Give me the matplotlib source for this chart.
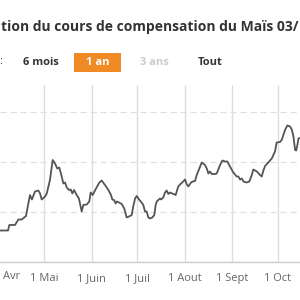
import matplotlib
matplotlib.use("Agg")
import matplotlib.pyplot as plt
from matplotlib.patches import FancyBboxPatch

# ---- data (days since 1 May, price) ----
days = [-29.0, -23.8, -22.9, -19.2, -17.0, -14.8, -12.0, -9.4, -8.1, -6.1,
        -3.9, -2.8, -1.7, 0.5, 1.6, 3.7, 5.5, 7.0, 8.5, 9.8,
        10.9, 12.5, 13.6, 14.7, 16.2, 17.3, 18.4, 19.5, 21.2, 22.7,
        24.5, 25.6, 27.8, 29.5, 30.4, 31.7, 33.9, 36.1, 37.6, 39.8,
        42.0, 43.7, 44.6, 45.7, 46.8, 47.5, 49.0, 50.7, 52.4, 54.0,
        56.2, 57.3, 58.3, 59.5, 60.6, 62.1, 63.8, 64.9, 66.0, 67.1,
        68.2, 69.3, 70.8, 72.1, 73.0, 73.7, 74.7, 75.8, 76.5, 78.0,
        79.1, 80.2, 81.3, 82.4, 84.6, 86.1, 87.8, 89.6, 91.1, 92.2,
        93.3, 94.4, 96.2, 97.3, 98.8, 99.9, 102.1, 103.2, 105.3, 106.5,
        107.5, 108.6, 109.7, 111.9, 113.0, 115.2, 116.7, 118.5, 120.0, 121.7,
        123.9, 126.1, 127.2, 128.3, 129.4, 130.5, 132.7, 134.4, 136.0, 137.0,
        139.3, 141.4, 142.5, 143.6, 144.7, 146.8, 149.1, 151.2, 152.3, 154.5,
        155.6, 157.8, 159.3, 161.1, 162.2, 163.3, 164.4, 165.1, 165.9, 166.6,
        168.5]
prices = [156.3, 156.3, 157.4, 157.4, 158.5, 158.5, 159.2, 163.4, 162.5, 164.1,
          164.3, 163.7, 162.5, 163.1, 163.7, 166.4, 170.4, 169.7, 168.7, 168.9,
          167.7, 165.7, 165.9, 164.9, 164.4, 164.5, 163.7, 164.4, 163.4, 162.7,
          160.1, 161.4, 161.5, 162.1, 163.9, 163.4, 164.7, 165.9, 166.3, 165.4,
          164.4, 163.4, 162.5, 162.4, 161.7, 162.1, 161.9, 161.6, 160.7, 158.9,
          159.2, 159.4, 161.1, 162.7, 163.2, 162.5, 161.9, 161.4, 160.1, 160.1,
          158.9, 158.7, 158.9, 159.4, 161.4, 162.1, 162.4, 162.7, 162.5, 162.9,
          163.9, 164.3, 163.6, 163.9, 163.6, 163.4, 165.1, 165.7, 166.1, 166.5,
          165.6, 165.1, 165.9, 166.1, 166.2, 167.4, 169.1, 169.9, 169.4, 168.7,
          167.7, 168.1, 167.6, 167.6, 167.7, 169.4, 170.3, 170.1, 170.1, 169.1,
          167.9, 167.1, 167.1, 166.5, 166.7, 166.1, 165.9, 166.1, 167.4, 168.5,
          168.1, 167.4, 167.1, 168.3, 169.2, 169.9, 170.7, 172.1, 173.9, 174.0,
          174.4, 176.4, 177.3, 177.1, 176.5, 175.1, 172.4, 172.3, 173.4, 174.7,
          174.9]

month_ticks = [0, 31, 61, 92, 123, 153]
month_labels = ["1 Mai", "1 Juin", "1 Juil", "1 Aout", "1 Sept", "1 Oct"]
y_grid = [160, 170, 180]

title_text = "tion du cours de compensation du Maïs 03/"
buttons = ["6 mois", "1 an", "3 ans", "Tout"]

FONT = ["Open Sans", "DejaVu Sans"]

fig = plt.figure(figsize=(3, 3), dpi=100)
fig.patch.set_facecolor("white")

ax = fig.add_axes([0, 38 / 300, 1, 177 / 300])
ax.set_xlim(-29.04, 167.6)
ax.set_ylim(150, 185.4)
ax.set_facecolor("white")
for s in ["top", "right", "left"]:
    ax.spines[s].set_visible(False)
ax.spines["bottom"].set_color("#cccccc")
ax.spines["bottom"].set_linewidth(1.0)

for t in month_ticks:
    ax.axvline(t, color="#dddddd", lw=1.0, zorder=0)
for g in y_grid:
    ax.axhline(g, color="#e0e0e0", lw=0.9, ls=(0, (5, 3)), zorder=0)

ax.plot(days, prices, color="#555555", lw=1.3, zorder=3)

ax.set_xticks(month_ticks)
ax.set_xticklabels(month_labels, family=FONT, fontsize=8, color="#666666")
ax.tick_params(axis="x", length=0, pad=8)
ax.set_yticks([])
ax.text(11.5 / 300, -14.5 / 177, "Avr", transform=ax.transAxes, ha="center", va="center",
        family=FONT, fontsize=8, color="#666666")

# title
fig.text(1 / 300, 1 - 27 / 300, title_text, ha="left", va="center",
         family=FONT, fontsize=10, fontweight="bold", color="#333333")

# range selector buttons
fig.text(1 / 300, 1 - 62 / 300, ":", ha="center", va="center",
         family=FONT, fontsize=8, color="#333333")
box = FancyBboxPatch((74 / 300, 1 - 72 / 300), 47 / 300, 19 / 300,
                     boxstyle="square,pad=0", transform=fig.transFigure,
                     facecolor="#ef8a25", edgecolor="none")
fig.patches.append(box)
btn_x = [41, 97.5, 154, 210]
btn_col = ["#333333", "white", "#cccccc", "#333333"]
for bx, lab, c in zip(btn_x, buttons, btn_col):
    fig.text(bx / 300, 1 - 62.5 / 300, lab, ha="center", va="center",
             family=FONT, fontsize=8, fontweight="bold", color=c)

fig.savefig("out.png", dpi=100, facecolor="white")
